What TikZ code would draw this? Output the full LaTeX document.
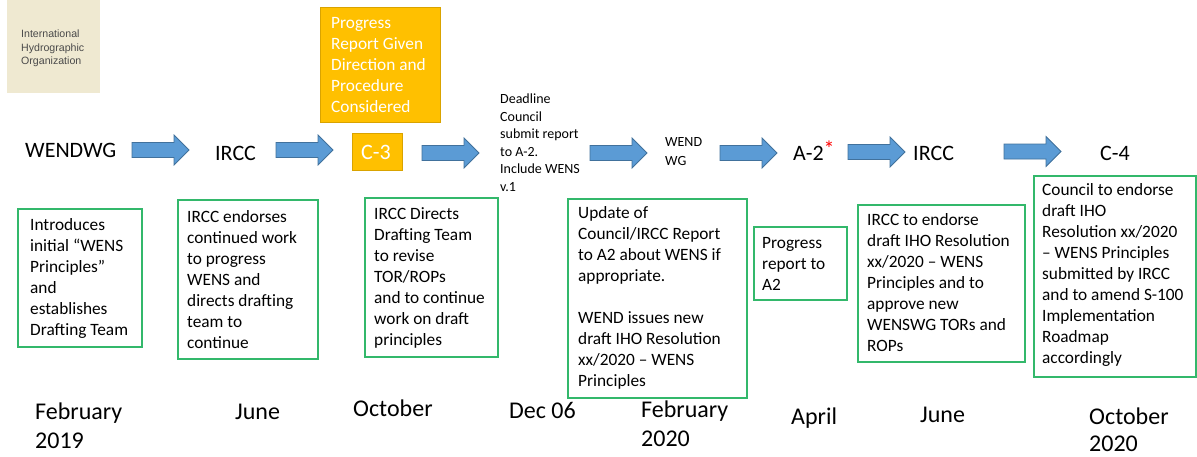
\documentclass[tikz,border=0pt]{standalone}
\usepackage{fontspec}
\setmainfont{Carlito}
\newfontfamily\logofont{Liberation Sans}
\definecolor{arrowblue}{HTML}{5B9BD5}
\definecolor{arrowedge}{HTML}{41719C}
\definecolor{gold}{HTML}{FFC000}
\definecolor{goldedge}{HTML}{D9A300}
\definecolor{boxgreen}{HTML}{33B86B}
\definecolor{beige}{HTML}{EFE9D1}
\definecolor{logogray}{HTML}{4A4A4A}
\tikzset{
  greenbox/.style={draw=boxgreen, line width=1.3pt},
  boxtext/.style={anchor=base west, align=left, inner sep=0pt, font=\fontsize{17.3}{21}\selectfont},
  bigtext/.style={anchor=base west, inner sep=0pt, font=\fontsize{22}{26}\selectfont},
  smalltext/.style={anchor=base west, align=left, inner sep=0pt, font=\fontsize{14}{17.6}\selectfont},
  datetext/.style={anchor=base west, align=left, inner sep=0pt, font=\fontsize{24}{29}\selectfont},
  goldbox/.style={fill=gold, draw=goldedge, line width=0.8pt},
  blockarrow/.pic={\draw[fill=arrowblue, draw=arrowedge, line width=0.8pt, line join=miter]
     (0,-7.5) -- (42,-7.5) -- (42,-15) -- (57,0) -- (42,15) -- (42,7.5) -- (0,7.5) -- cycle;}
}
\begin{document}
\begin{tikzpicture}[x=1pt,y=-1pt]
\useasboundingbox (0,0) rectangle (1197,456);
% logo
\fill[beige] (7,0) rectangle (100,93);
\node[anchor=base west, align=left, inner sep=0pt, text=logogray, font=\logofont\fontsize{10.6}{13.5}\selectfont] (logo) at (21,64.5) {International\\Hydrographic\\Organization};
% top gold box
\draw[goldbox] (320,7) rectangle (440,122);
\node[boxtext, text=white] (progress) at (331,112.5) {Progress\\Report Given\\Direction and\\Procedure\\Considered};
% headline row
\node[bigtext] (wendwg) at (25,157) {WENDWG};
\node[bigtext] (ircc1) at (215,160) {IRCC};
\draw[goldbox] (352,133) rectangle (402,170);
\node[bigtext, text=white] (c3) at (361,159.5) {C-3};
\node[smalltext] (deadline) at (500,191.5) {Deadline\\Council\\submit report\\to A-2.\\Include WENS\\v.1};
\node[anchor=base west, align=left, inner sep=0pt, font=\fontsize{14}{19}\selectfont] (wendwg2) at (665,165.5) {WEND\\WG};
\node[bigtext] (a2) at (793,160) {A-2\textcolor{red}{\raisebox{0.35ex}{*}}};
\node[bigtext] (ircc2) at (913,160) {IRCC};
\node[bigtext] (c4) at (1100,160) {C-4};
% arrows
\pic at (132,150) {blockarrow};
\pic at (276,150) {blockarrow};
\pic at (422,153) {blockarrow};
\pic at (590,153) {blockarrow};
\pic at (720,153) {blockarrow};
\pic at (848,152) {blockarrow};
\pic at (1004,151.5) {blockarrow};
% green boxes
\draw[greenbox] (18,209) rectangle (142,347);
\node[boxtext] (t1) at (30,335.5) {Introduces\\initial “WENS\\Principles”\\and\\establishes\\Drafting Team};
\draw[greenbox] (178,200) rectangle (318,359);
\node[boxtext] (t2) at (187,348.5) {IRCC endorses\\continued work\\to progress\\WENS and\\directs drafting\\team to\\continue};
\draw[greenbox] (365,198) rectangle (498,357);
\node[boxtext] (t3) at (374,345.5) {IRCC Directs\\Drafting Team\\to revise\\TOR/ROPs\\and to continue\\work on draft\\principles};
\draw[greenbox] (568,199) rectangle (747,398);
\node[boxtext] (t4) at (578,386.5) {Update of\\Council/IRCC Report\\to A2 about WENS if\\appropriate.\\[21pt]WEND issues new\\draft IHO Resolution\\xx/2020 – WENS\\Principles};
\draw[greenbox] (754,227) rectangle (847,300);
\node[boxtext] (t5) at (762,290.5) {Progress\\report to\\A2};
\draw[greenbox] (858,205) rectangle (1025,362);
\node[boxtext] (t6) at (867,351.5) {IRCC to endorse\\draft IHO Resolution\\xx/2020 – WENS\\Principles and to\\approve new\\WENSWG TORs and\\ROPs};
\draw[greenbox] (1034,176) rectangle (1196,377);
\node[boxtext] (t7) at (1042,363.5) {Council to endorse\\draft IHO\\Resolution xx/2020\\– WENS Principles\\submitted by IRCC\\and to amend S-100\\Implementation\\Roadmap\\accordingly};
% dates
\node[datetext] (d1) at (35,448) {February\\2019};
\node[datetext] (d2) at (235,419) {June};
\node[datetext] (d3) at (353,416) {October};
\node[datetext] (d4) at (509,418) {Dec 06};
\node[datetext] (d5) at (641,446) {February\\2020};
\node[datetext] (d6) at (791,424) {April};
\node[datetext] (d7) at (920,422) {June};
\node[datetext, font=\fontsize{24}{27}\selectfont] (d8) at (1089,451) {October\\2020};
\end{tikzpicture}
\end{document}
